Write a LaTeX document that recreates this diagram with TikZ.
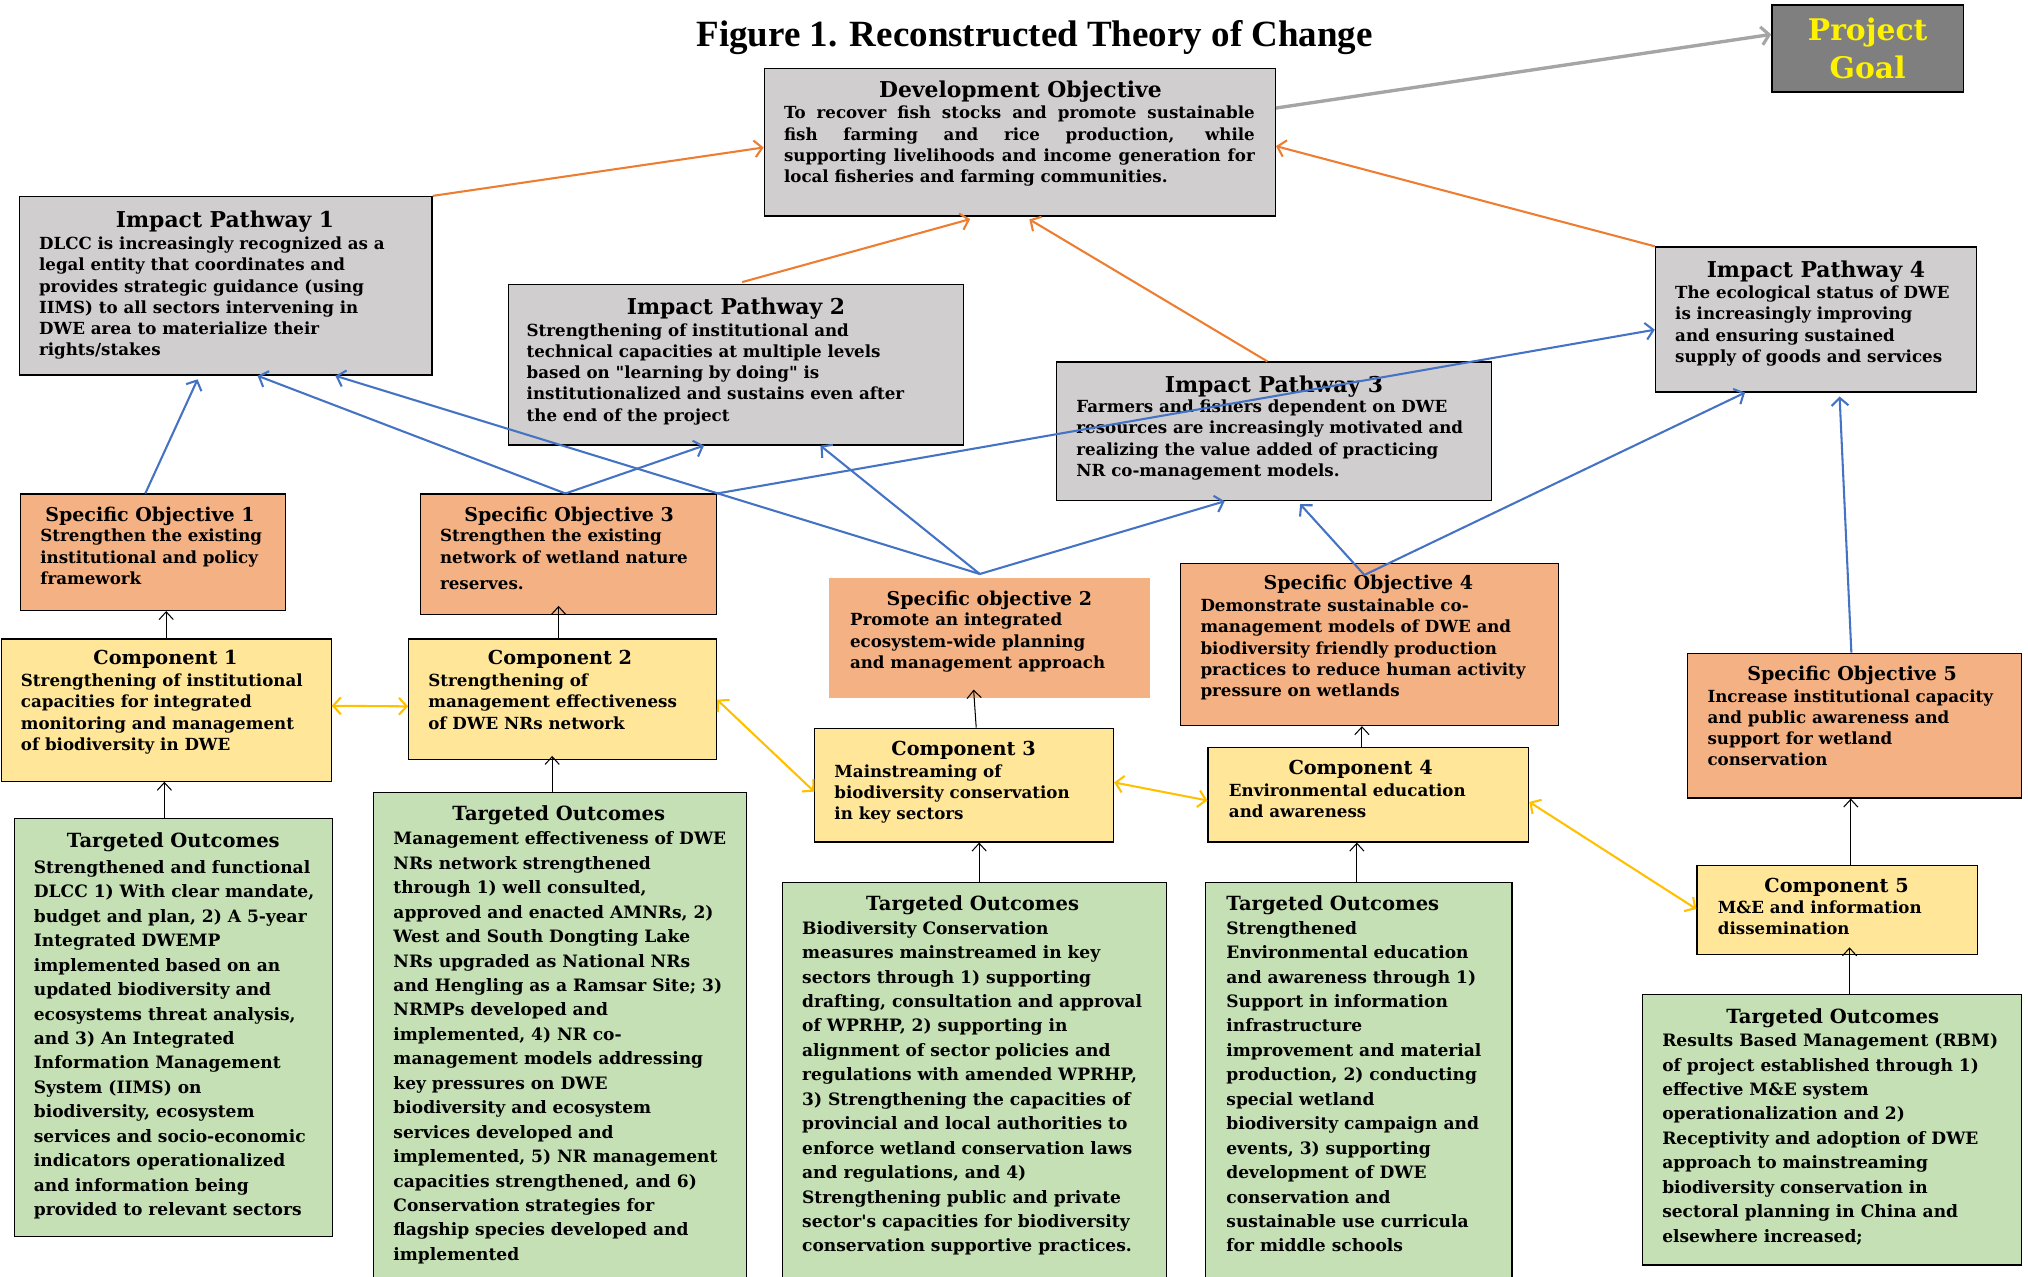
\documentclass[tikz,border=0pt]{standalone}
\usepackage{fontspec}
\setmainfont{DejaVu Serif}[Ligatures=TeXOff]
\newfontfamily\timesfont{Liberation Serif}
\usetikzlibrary{arrows.meta,calc}
\definecolor{boxgray}{HTML}{D0CECE}
\definecolor{goalgray}{HTML}{7F7F7F}
\definecolor{salmon}{HTML}{F4B183}
\definecolor{compyellow}{HTML}{FFE699}
\definecolor{togreen}{HTML}{C5E0B4}
\definecolor{arrorange}{HTML}{ED7D31}
\definecolor{arrblue}{HTML}{4472C4}
\definecolor{arryellow}{HTML}{FFC000}
\definecolor{arrgray}{HTML}{A5A5A5}
\newcommand\mkbox[6]{\node[#2, minimum width={#5-#3}, minimum height={#6-#4}] (#1) at ({(#3+#5)/2},{(#4+#6)/2}) {};}
\begin{document}
\begin{tikzpicture}[x=1pt,y=-1pt,
  bx/.style={draw=black, line width=0.9pt, inner sep=0pt},
  graybox/.style={bx, fill=boxgray, line width=1.1pt},
  salbox/.style={bx, fill=salmon},
  salnob/.style={inner sep=0pt, fill=salmon},
  ylbox/.style={bx, fill=compyellow},
  grbox/.style={bx, fill=togreen},
  hdbig/.style={inner sep=0pt, font=\fontsize{16.9}{19}\selectfont\bfseries},
  hdso/.style={inner sep=0pt, font=\fontsize{14.7}{17}\selectfont\bfseries},
  hdcomp/.style={inner sep=0pt, font=\fontsize{14.9}{17}\selectfont\bfseries},
  hdto/.style={inner sep=0pt, font=\fontsize{15.1}{17}\selectfont\bfseries},
  bodyu/.style={anchor=north west, align=left, inner sep=0pt, font=\fontsize{12.9}{16.4}\selectfont\bfseries},
  bodyt/.style={anchor=north west, align=left, inner sep=0pt, font=\fontsize{13.2}{18.9}\selectfont\bfseries},
  oarr/.style={draw=arrorange, line width=1.6pt, -{Straight Barb[length=6pt,width=13pt,line width=1.6pt]}},
  barr/.style={draw=arrblue, line width=1.6pt, -{Straight Barb[length=6pt,width=13pt,line width=1.6pt]}},
  garr/.style={draw=arrgray, line width=2.6pt, -{Straight Barb[length=6pt,width=14pt,line width=2.4pt]}},
  karr/.style={draw=black, line width=0.8pt, -{Straight Barb[length=6pt,width=11pt,line width=0.8pt]}},
  yarr/.style={draw=arryellow, line width=1.6pt, {Straight Barb[length=6pt,width=13pt,line width=1.6pt]}-{Straight Barb[length=6pt,width=13pt,line width=1.6pt]}}
]
\useasboundingbox (0,0) rectangle (1568,987);
\fill[white] (0,0) rectangle (1568,987);

% title
\node[inner sep=0pt, font=\timesfont\bfseries\fontsize{28.6}{32}\selectfont] (title) at (800,29) {Figure 1. Reconstructed Theory of Change};

% project goal
\mkbox{goal}{bx, fill=goalgray, line width=1.1pt}{1370}{4}{1518}{71}
\node[inner sep=0pt, align=center, text=yellow, font=\fontsize{23}{29}\selectfont\bfseries] (goalt) at (goal.center) {Project\\Goal};

% development objective
\mkbox{dev}{graybox}{591}{53}{986}{167}
\node[hdbig] (devh) at (789,71) {Development Objective};
\node[bodyu] (devb) at (606,82) {\makebox[364pt][s]{To recover fish stocks and promote sustainable}\\
\makebox[364pt][s]{fish farming and rice production, while}\\
\makebox[364pt][s]{supporting livelihoods and income generation for}\\
local fisheries and farming communities.};

% impact pathways
\mkbox{ip1}{graybox}{15}{152}{334}{290}
\node[hdbig] (ip1h) at (174,171) {Impact Pathway 1};
\node[bodyu] (ip1b) at (30,183) {DLCC is increasingly recognized as a\\legal entity that coordinates and\\provides strategic guidance (using\\IIMS) to all sectors intervening in\\DWE area to materialize their\\rights/stakes};

\mkbox{ip2}{graybox}{393}{220}{745}{344}
\node[hdbig] (ip2h) at (569,239) {Impact Pathway 2};
\node[bodyu] (ip2b) at (407,250) {Strengthening of institutional and\\technical capacities at multiple levels\\based on \symbol{34}learning by doing\symbol{34} is\\institutionalized and sustains even after\\the end of the project};

\mkbox{ip3}{graybox}{817}{280}{1153}{387}
\node[hdbig] (ip3h) at (985,299) {Impact Pathway 3};
\node[bodyu] (ip3b) at (832,309) {Farmers and fishers dependent on DWE\\resources are increasingly motivated and\\realizing the value added of practicing\\NR co-management models.};

\mkbox{ip4}{graybox}{1280}{191}{1528}{303}
\node[hdbig] (ip4h) at (1404,210) {Impact Pathway 4};
\node[bodyu] (ip4b) at (1295,221) {The ecological status of DWE\\is increasingly improving\\and ensuring sustained\\supply of goods and services};

% specific objectives
\mkbox{so1}{salbox}{16}{382}{221}{472}
\node[hdso] (so1h) at (116,399) {Specific Objective 1};
\node[bodyu] (so1b) at (31,409) {Strengthen the existing\\institutional and policy\\framework};

\mkbox{so3}{salbox}{325}{382}{554}{475}
\node[hdso] (so3h) at (440,399) {Specific Objective 3};
\node[bodyu] (so3b) at (340,409) {Strengthen the existing\\network of wetland nature\\[4pt]reserves.};

\mkbox{so2}{salnob}{641}{447}{889}{540}
\node[hdso] (so2h) at (765,464) {Specific objective 2};
\node[bodyu] (so2b) at (657,474) {Promote an integrated\\ecosystem-wide planning\\and management approach};

\mkbox{so4}{salbox}{913}{436}{1205}{561}
\node[hdso] (so4h) at (1058,452) {Specific Objective 4};
\node[bodyu] (so4b) at (928,463) {Demonstrate sustainable co-\\management models of DWE and\\biodiversity friendly production\\practices to reduce human activity\\pressure on wetlands};

\mkbox{so5}{salbox}{1305}{505}{1563}{617}
\node[hdso] (so5h) at (1432,522) {Specific Objective 5};
\node[bodyu] (so5b) at (1320,533) {Increase institutional capacity\\and public awareness and\\support for wetland\\conservation};

% components
\mkbox{c1}{ylbox}{1}{494}{256}{604}
\node[hdcomp] (c1h) at (128,510) {Component 1};
\node[bodyu] (c1b) at (16,521) {Strengthening of institutional\\capacities for integrated\\monitoring and management\\of biodiversity in DWE};

\mkbox{c2}{ylbox}{316}{494}{554}{587}
\node[hdcomp] (c2h) at (433,510) {Component 2};
\node[bodyu] (c2b) at (331,521) {Strengthening of\\management effectiveness\\of DWE NRs network};

\mkbox{c3}{ylbox}{630}{563}{861}{651}
\node[hdcomp] (c3h) at (745,580) {Component 3};
\node[bodyu] (c3b) at (645,591) {Mainstreaming of\\biodiversity conservation\\in key sectors};

\mkbox{c4}{ylbox}{934}{578}{1182}{651}
\node[hdcomp] (c4h) at (1052,595) {Component 4};
\node[bodyu] (c4b) at (950,606) {Environmental education\\and awareness};

\mkbox{c5}{ylbox}{1312}{669}{1529}{738}
\node[hdcomp] (c5h) at (1420,686) {Component 5};
\node[bodyu] (c5b) at (1328,696) {M\&E and information\\dissemination};

% targeted outcomes
\mkbox{to1}{grbox}{11}{633}{257}{956}
\node[hdto] (to1h) at (134,651) {Targeted Outcomes};
\node[bodyt] (to1b) at (26,665) {Strengthened and functional\\DLCC 1) With clear mandate,\\budget and plan, 2) A 5-year\\Integrated DWEMP\\implemented based on an\\updated biodiversity and\\ecosystems threat analysis,\\and 3) An Integrated\\Information Management\\System (IIMS) on\\biodiversity, ecosystem\\services and socio-economic\\indicators operationalized\\and information being\\provided to relevant sectors};

\mkbox{to2}{grbox}{289}{613}{577}{997}
\node[hdto] (to2h) at (432,630) {Targeted Outcomes};
\node[bodyt] (to2b) at (304,643) {Management effectiveness of DWE\\NRs network strengthened\\through 1) well consulted,\\approved and enacted AMNRs, 2)\\West and South Dongting Lake\\NRs upgraded as National NRs\\and Hengling as a Ramsar Site; 3)\\NRMPs developed and\\implemented, 4) NR co-\\management models addressing\\key pressures on DWE\\biodiversity and ecosystem\\services developed and\\implemented, 5) NR management\\capacities strengthened, and 6)\\Conservation strategies for\\flagship species developed and\\implemented};

\mkbox{to3}{grbox}{605}{682}{902}{997}
\node[hdto] (to3h) at (752,700) {Targeted Outcomes};
\node[bodyt] (to3b) at (620,712) {Biodiversity Conservation\\measures mainstreamed in key\\sectors through 1) supporting\\drafting, consultation and approval\\of WPRHP, 2) supporting in\\alignment of sector policies and\\regulations with amended WPRHP,\\3) Strengthening the capacities of\\provincial and local authorities to\\enforce wetland conservation laws\\and regulations, and 4)\\Strengthening public and private\\sector\symbol{39}s capacities for biodiversity\\conservation supportive practices.};

\mkbox{to4}{grbox}{932}{682}{1169}{997}
\node[hdto, anchor=west] (to4h) at (948,700) {Targeted Outcomes};
\node[bodyt] (to4b) at (948,712) {Strengthened\\Environmental education\\and awareness through 1)\\Support in information\\infrastructure\\improvement and material\\production, 2) conducting\\special wetland\\biodiversity campaign and\\events, 3) supporting\\development of DWE\\conservation and\\sustainable use curricula\\for middle schools};

\mkbox{to5}{grbox}{1270}{769}{1563}{978}
\node[hdto] (to5h) at (1417,787) {Targeted Outcomes};
\node[bodyt] (to5b) at (1285,799) {Results Based Management (RBM)\\of project established through 1)\\effective M\&E system\\operationalization and 2)\\Receptivity and adoption of DWE\\approach to mainstreaming\\biodiversity conservation in\\sectoral planning in China and\\elsewhere increased;};

% ---------- connectors ----------
% orange
\draw[oarr] (ip1.north east) -- ($(dev.north west)!0.535!(dev.south west)$);
\draw[oarr, shorten <=5pt, shorten >=7pt] (ip2.north) -- ($(dev.south west)!0.42!(dev.south east)$);
\draw[oarr, shorten >=4pt] ($(ip3.north west)!0.485!(ip3.north east)$) -- ($(dev.south west)!0.51!(dev.south east)$);
\draw[oarr] (ip4.north west) -- ($(dev.north east)!0.526!(dev.south east)$);
% gray
\draw[garr] ($(dev.north east)!0.27!(dev.south east)$) -- ($(goal.north west)!0.34!(goal.south west)$);

% blue
\coordinate (so1t) at ($(so1.north west)!0.47!(so1.north east)$);
\coordinate (so3t) at ($(so3.north west)!0.49!(so3.north east)$);
\coordinate (so2t) at ($(so2.north west)!0.47!(so2.north east)+(0,-3)$);
\coordinate (so4t) at ($(so4.north west)!0.486!(so4.north east)+(0,9)$);
\coordinate (so5t) at ($(so5.north west)!0.49!(so5.north east)$);
\draw[barr, shorten >=3pt] (so1t) -- ($(ip1.south west)!0.436!(ip1.south east)$);
\draw[barr] (so3t) -- ($(ip1.south west)!0.577!(ip1.south east)$);
\draw[barr] (so3t) -- ($(ip2.south west)!0.43!(ip2.south east)$);
\draw[barr] (so3.north east) -- ($(ip4.north west)!0.57!(ip4.south west)$);
\draw[barr] (so2t) -- ($(ip1.south west)!0.765!(ip1.south east)$);
\draw[barr] (so2t) -- ($(ip2.south west)!0.685!(ip2.south east)$);
\draw[barr] (so2t) -- ($(ip3.south west)!0.387!(ip3.south east)$);
\draw[barr, shorten >=3pt] (so4t) -- ($(ip3.south west)!0.554!(ip3.south east)$);
\draw[barr] (so4t) -- ($(ip4.south west)!0.28!(ip4.south east)$);
\draw[barr, shorten >=3pt] (so5t) -- ($(ip4.south west)!0.573!(ip4.south east)$);

% black
\coordinate (c1t) at (c1.north);
\coordinate (c2t) at ($(c2.north west)!0.487!(c2.north east)$);
\coordinate (c3t) at ($(c3.north west)!0.54!(c3.north east)$);
\coordinate (c4t) at ($(c4.north west)!0.48!(c4.north east)$);
\coordinate (c5t) at ($(c5.north west)!0.548!(c5.north east)$);
\draw[karr] (c1t) -- (c1t |- so1.south);
\draw[karr] (c2t) -- ($(c2t |- so3.south)+(0,-7)$);
\draw[karr] (c3t) -- ($(c3t |- so2.south)+(-2,-7)$);
\draw[karr] (c4t) -- (c4t |- so4.south);
\draw[karr] (c5t) -- (c5t |- so5.south);
\coordinate (to1t) at ($(to1.north west)!0.472!(to1.north east)$);
\coordinate (to2t) at ($(to2.north west)!0.479!(to2.north east)$);
\coordinate (to3t) at ($(to3.north west)!0.512!(to3.north east)$);
\coordinate (to4t) at ($(to4.north west)!0.494!(to4.north east)$);
\coordinate (to5t) at ($(to5.north west)!0.546!(to5.north east)$);
\draw[karr] (to1t) -- (to1t |- c1.south);
\draw[karr] (to2t) -- ($(to2t |- c2.south)+(0,-3)$);
\draw[karr] (to3t) -- (to3t |- c3.south);
\draw[karr] (to4t) -- (to4t |- c4.south);
\draw[karr] (to5t) -- ($(to5t |- c5.south)+(0,-6)$);

% yellow
\draw[yarr] ($(c1.north east)!0.47!(c1.south east)$) -- ($(c2.north west)!0.56!(c2.south west)$);
\draw[yarr] ($(c2.north east)!0.505!(c2.south east)$) -- ($(c3.north west)!0.557!(c3.south west)$);
\draw[yarr] ($(c3.north east)!0.477!(c3.south east)$) -- ($(c4.north west)!0.56!(c4.south west)$);
\draw[yarr] ($(c4.north east)!0.575!(c4.south east)$) -- ($(c5.north west)!0.49!(c5.south west)$);
\end{tikzpicture}
\end{document}
